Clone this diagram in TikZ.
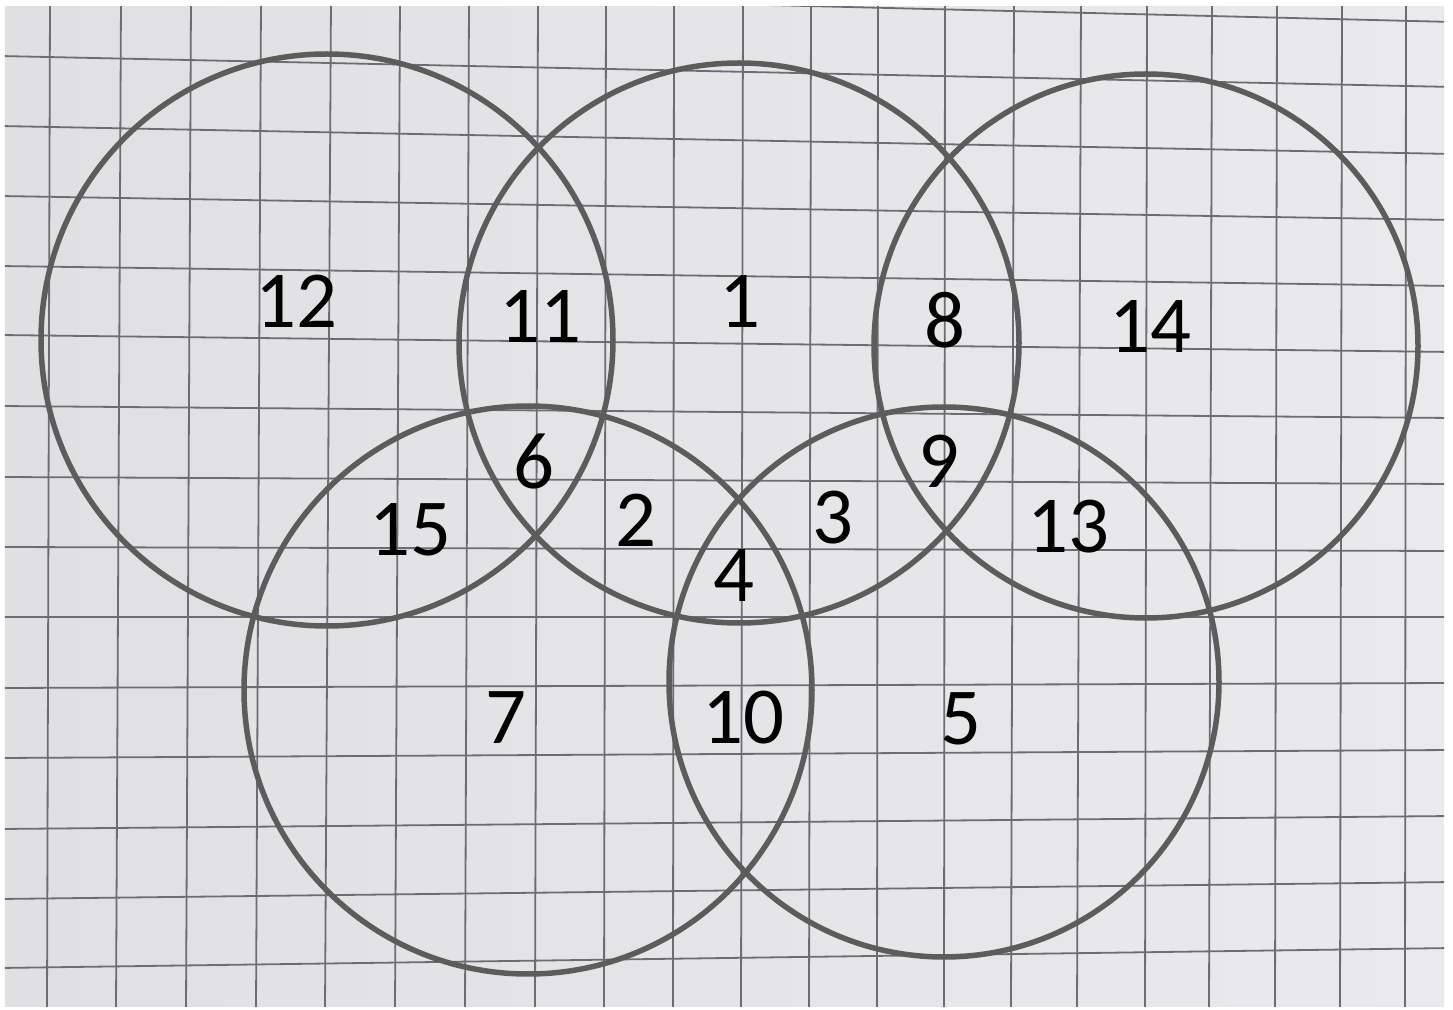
\documentclass[tikz,border=0pt]{standalone}
\usepackage{fontspec}
\setmainfont{Carlito}
\definecolor{paperL}{RGB}{224,224,227}
\definecolor{paperR}{RGB}{234,234,236}
\definecolor{gridline}{RGB}{108,108,114}
\definecolor{pencil}{RGB}{92,92,92}
\tikzset{
  line cap=round,
  line join=round,
  gridrule/.style={draw=gridline, line width=0.18mm},
  ring/.style={draw=pencil, line width=0.55mm},
  region/.style={font=\fontsize{23}{28}\selectfont, text=black, inner sep=0pt}
}
\begin{document}
\begin{tikzpicture}[x=0.1mm, y=-0.1mm]
	\useasboundingbox (0,0) rectangle (1453,1010);
	% Draw the sheet of squared paper
	\fill[white] (0,0) rectangle (1453,1010);
	\shade[left color=paperL, right color=paperR] (5,7) rectangle (1444,1006);
	\begin{scope}
		\clip (5,7) rectangle (1444,1006);
		% vertical rules (x at top / x at bottom)
		\foreach \xt/\xb in {50/47, 121/116, 191/186, 261/256, 331/325, 400/395, 469/465,
			538/535, 606/604, 674/673, 743/741, 811/809, 878/877, 945/944, 1014/1011,
			1081/1077, 1147/1145, 1212/1209, 1277/1275, 1342/1340, 1406/1405}
			\draw[gridrule] (\xt,0) -- (\xb,1010);
		% horizontal rules (y at left / y at right)
		\foreach \yl/\yr in {-14/22, 56/87, 126/154, 196/220, 266/286, 335/352, 406/418,
			477/484, 547/551, 617/617, 688/683, 758/750, 829/816, 899/882, 968/948}
			\draw[gridrule] (0,\yl) -- (1453,\yr);
	\end{scope}
	
	\coordinate (centerA) at (327,340);
	\coordinate (centerB) at (739,343);
	\coordinate (centerC) at (1146,346);
	\coordinate (centerD) at (528,690);
	\coordinate (centerE) at (944,682);
	
	% draw the five circles
	\draw[ring] (centerA) circle (28.6mm);
	\draw[ring] (centerB) circle (28mm);
	\draw[ring] (centerC) circle (27.2mm);
	\draw[ring] (centerD) circle (28.4mm);
	\draw[ring] (centerE) circle (27.5mm);
	
	% Add labels
	\node[region] (n12) at (296,301) {12};
	\node[region] (n11) at (540,316) {11};
	\node[region] (n1) at (740,301) {1};
	\node[region] (n8) at (945,320) {8};
	\node[region] (n14) at (1150,326) {14};
	\node[region] (n6) at (534,462) {6};
	\node[region] (n9) at (939,461) {9};
	\node[region] (n15) at (410,530) {15};
	\node[region] (n2) at (636,520) {2};
	\node[region] (n3) at (833,518) {3};
	\node[region] (n13) at (1068,527) {13};
	\node[region] (n4) at (734,576) {4};
	\node[region] (n7) at (506,718) {7};
	\node[region] (n10) at (743,718) {10};
	\node[region] (n5) at (961,719) {5};
\end{tikzpicture}
\end{document}
